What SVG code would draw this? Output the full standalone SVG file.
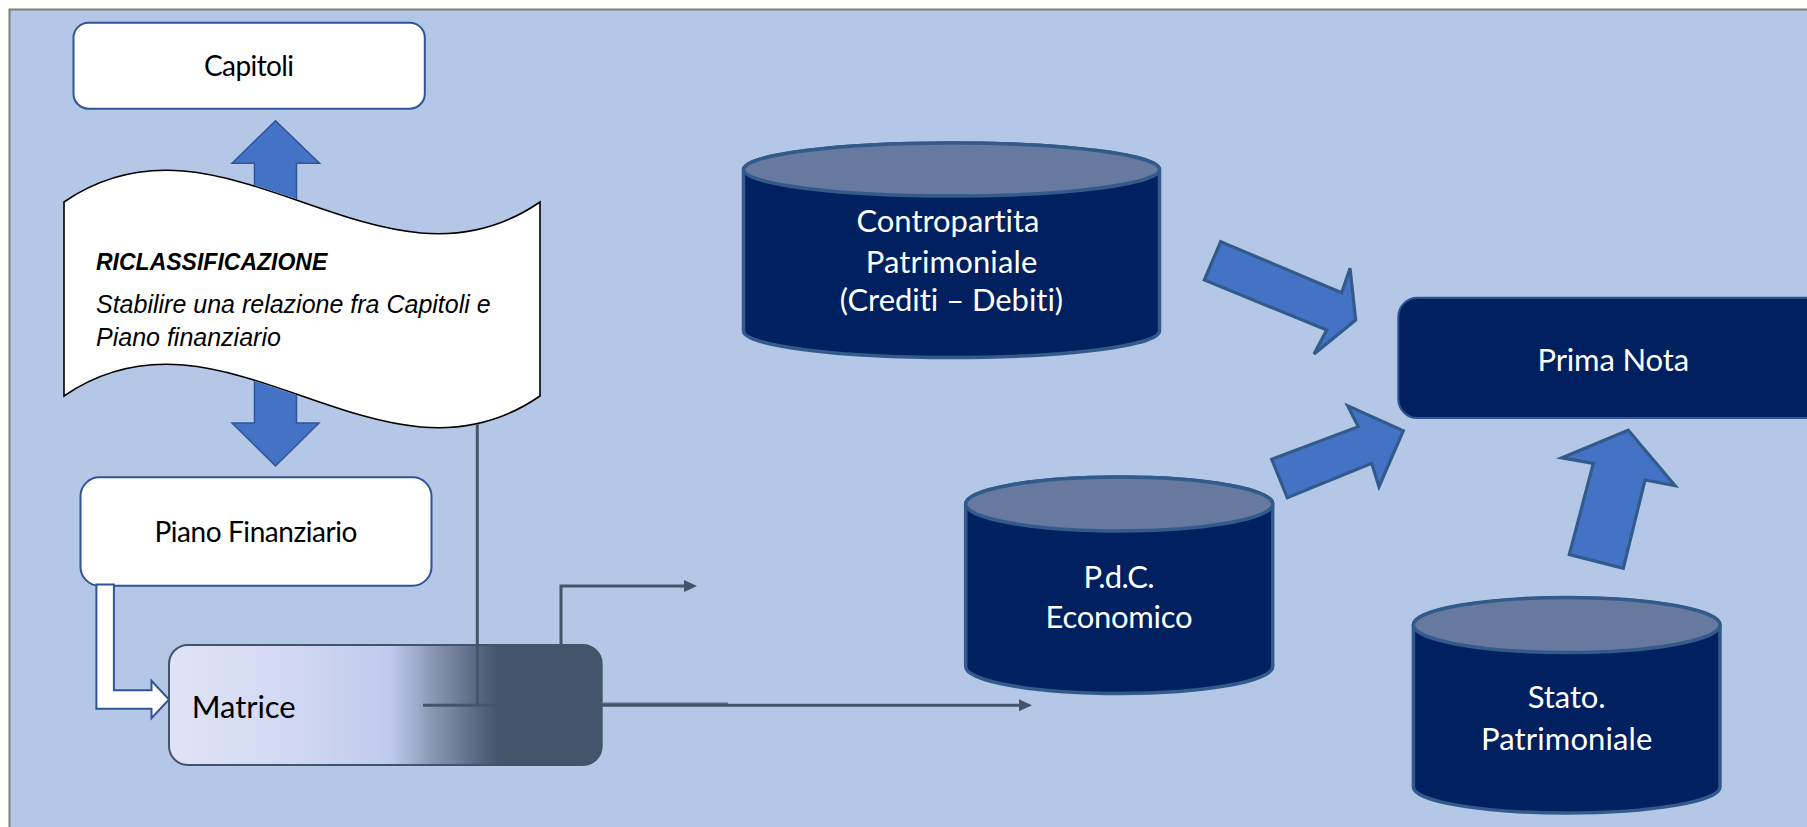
<svg xmlns="http://www.w3.org/2000/svg" width="1807" height="827" viewBox="0 0 1807 827">
  <defs>
    <style>
      text { font-variant-ligatures: none; }
      .lbl-light { font-family: Lato, "Noto Sans", sans-serif; font-size: 28px; fill: #000; text-anchor: middle; }
      .lbl-dark { font-family: Lato, "Noto Sans", sans-serif; font-size: 31px; fill: #fff; text-anchor: middle; }
      .lbl-wave { font-family: "Liberation Sans", Arial, sans-serif; font-style: italic; fill: #000; }
      .box-white { fill: #fff; stroke: #2f5597; stroke-width: 2; }
      .box-dark { fill: #00205f; stroke: #2f5597; stroke-width: 2; }
      .cyl-body { fill: #00205f; stroke: #325b8c; stroke-width: 3.5; }
      .cyl-top { fill: #67799f; stroke: #325b8c; stroke-width: 3.5; }
      .block-arrow { fill: #4472c4; stroke: #325b8c; stroke-width: 3.2; stroke-linejoin: miter; }
      .link { fill: none; stroke: #44546a; stroke-width: 3; }
    </style>
    <linearGradient id="matriceFill" x1="0" y1="0" x2="1" y2="0">
      <stop offset="0" stop-color="#dfe3f6"/>
      <stop offset="0.25" stop-color="#d3daf3"/>
      <stop offset="0.51" stop-color="#bfcbee"/>
      <stop offset="0.55" stop-color="#abb7d9"/>
      <stop offset="0.6" stop-color="#8e9bb8"/>
      <stop offset="0.65" stop-color="#76849f"/>
      <stop offset="0.7" stop-color="#5e6d88"/>
      <stop offset="0.76" stop-color="#44546a"/>
      <stop offset="1" stop-color="#44546a"/>
    </linearGradient>
    <marker id="head" markerUnits="userSpaceOnUse" markerWidth="14" markerHeight="14" viewBox="0 0 14 14" refX="1" refY="7" orient="auto">
      <path d="M0,1 L13,7 L0,13 Z" fill="#44546a"/>
    </marker>
    <!-- hides the part of the double arrow that runs behind the wave banner -->
    <mask id="behindWave" maskUnits="userSpaceOnUse" x="0" y="0" width="1807" height="827">
      <rect x="0" y="0" width="1807" height="827" fill="#fff"/>
      <path d="M64,202 C224,92 380,312 540,202 L540,396 C380,506 224,286 64,396 Z" fill="#000" stroke="#000" stroke-width="2"/>
    </mask>
  </defs>

  <!-- page and panel -->
  <rect x="0" y="0" width="1807" height="827" fill="#fff"/>
  <rect x="9.5" y="9.5" width="1810" height="830" fill="#b4c7e7" stroke="#7f7f7f" stroke-width="2"/>

  <!-- nodes -->
  <g id="capitoli">
    <rect class="box-white" x="73.5" y="22.7" width="351.3" height="86" rx="15"/>
    <text class="lbl-light" x="249" y="76" textLength="90">Capitoli</text>
  </g>

  <g id="riclassificazione">
    <path d="M64,202 C224,92 380,312 540,202 L540,396 C380,506 224,286 64,396 Z" fill="#fff" stroke="#000" stroke-width="1.6"/>
    <text class="lbl-wave" x="96" y="270" font-size="23" font-weight="bold">RICLASSIFICAZIONE</text>
    <text class="lbl-wave" x="96" y="312.5" font-size="25">Stabilire una relazione fra Capitoli e</text>
    <text class="lbl-wave" x="96" y="345.5" font-size="25">Piano finanziario</text>
  </g>

  <g id="piano-finanziario">
    <rect class="box-white" x="80.5" y="477.3" width="351" height="108.4" rx="19"/>
    <text class="lbl-light" x="256" y="541.7" textLength="203">Piano Finanziario</text>
  </g>

  <g id="matrice">
    <rect x="169" y="645" width="432.7" height="120" rx="19" fill="url(#matriceFill)" stroke="#44546a" stroke-width="2"/>
    <text x="191.7" y="718.3" font-family="Lato, 'Noto Sans', sans-serif" font-size="31" fill="#000" textLength="104">Matrice</text>
  </g>

  <g id="contropartita">
    <path class="cyl-body" d="M743.5,169.5 V331 A208,26.5 0 0 0 1159.5,331 V169.5 A208,26.5 0 0 0 743.5,169.5 Z"/>
    <ellipse class="cyl-top" cx="951.5" cy="169.5" rx="208" ry="26.5"/>
    <text class="lbl-dark" x="948" y="231.7" textLength="183">Contropartita</text>
    <text class="lbl-dark" x="951.5" y="273.3" textLength="171.7">Patrimoniale</text>
    <text class="lbl-dark" x="951.5" y="310.7" textLength="223.3">(Crediti – Debiti)</text>
  </g>

  <g id="pdc-economico">
    <path class="cyl-body" d="M965.7,504 V666.5 A153.5,27 0 0 0 1272.7,666.5 V504 A153.5,27 0 0 0 965.7,504 Z"/>
    <ellipse class="cyl-top" cx="1119.2" cy="504" rx="153.5" ry="27"/>
    <text class="lbl-dark" x="1119" y="588.3" textLength="71">P.d.C.</text>
    <text class="lbl-dark" x="1119" y="628.3" textLength="147">Economico</text>
  </g>

  <g id="prima-nota">
    <rect class="box-dark" x="1398.3" y="297.8" width="440" height="120.3" rx="19"/>
    <text class="lbl-dark" x="1613.3" y="370.7" textLength="151.7">Prima Nota</text>
  </g>

  <g id="stato-patrimoniale">
    <path class="cyl-body" d="M1413.4,625 V787 A153.3,26 0 0 0 1720,787 V625 A153.3,27 0 0 0 1413.4,625 Z"/>
    <ellipse class="cyl-top" cx="1566.7" cy="625" rx="153.3" ry="27.5"/>
    <text class="lbl-dark" x="1566.7" y="708" textLength="77.7">Stato.</text>
    <text class="lbl-dark" x="1566.7" y="750.4" textLength="171.3">Patrimoniale</text>
  </g>

  <!-- connectors -->
  <g id="connectors">
    <!-- Capitoli <-> Piano Finanziario, passing behind the banner -->
    <polygon mask="url(#behindWave)" points="275.5,120.7 319.5,163.3 296.5,163.3 296.5,423 319,423 275.5,466 232,423 254.5,423 254.5,163.3 232,163.3" fill="#4472c4" stroke="#2f5597" stroke-width="1.5"/>

    <!-- Piano Finanziario -> Matrice -->
    <polygon points="96.4,584.5 113.9,584.5 113.9,690.3 151.5,690.3 151.5,680.7 169,699.5 151.5,718.3 151.5,708.7 96.4,708.7" fill="#fff" stroke="#2f5597" stroke-width="2"/>

    <!-- Matrice outputs -->
    <line x1="477.3" y1="424" x2="477.3" y2="704" class="link" stroke-width="2.6"/>
    <line x1="601" y1="704" x2="728" y2="704" stroke="#5d6d88" stroke-width="3"/>
    <path class="link" d="M423,705.3 H1020" marker-end="url(#head)"/>
    <path class="link" d="M561,645 V586 H685" stroke-width="2.8" marker-end="url(#head)"/>

    <!-- sources -> Prima Nota -->
    <polygon class="block-arrow" points="1220.7,241.7 1341.7,292.7 1350,268.3 1355.7,320 1314,354 1326.7,330 1204.3,280"/>
    <polygon class="block-arrow" points="1271.7,459.3 1358.3,426.7 1347.7,405.7 1403.3,430.7 1379,486.7 1371.7,463.3 1287.3,497.7"/>
    <polygon class="block-arrow" points="1628.3,430.3 1675,485.5 1645,480 1623.3,568.2 1569.3,554.6 1593.3,463.4 1561.7,457.9"/>
  </g>
</svg>
